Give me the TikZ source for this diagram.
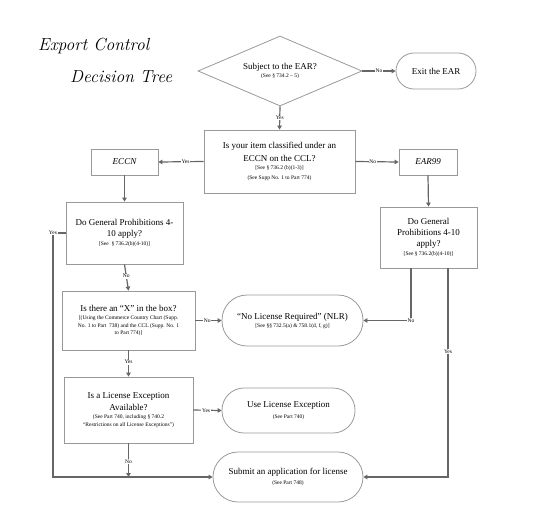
\documentclass[tikz,border=0pt]{standalone}
\usepackage{fontspec}
\setmainfont{Liberation Serif}
\newfontfamily\titlefont{Latin Modern Roman}
\usetikzlibrary{arrows.meta,shapes.geometric}
\newcommand{\mtx}{\fontsize{9}{11.5}\selectfont}
\newcommand{\stx}{\fontsize{5.5}{7.5}\selectfont}
\definecolor{lnc}{HTML}{666666}
\definecolor{bdc}{HTML}{999999}
\tikzset{
  box/.style={draw=bdc, line width=0.8pt, align=center, inner sep=1pt, text=black, font=\stx},
  stad/.style={box, rounded corners=#1},
  conn/.style={draw=lnc, line width=1.2pt, -{Triangle[length=4pt,width=4.5pt]}},
  lbl/.style={fill=white, inner sep=0.6pt, font=\stx, text=black},
}
\begin{document}
\begin{tikzpicture}[x=1pt,y=-1pt]
\useasboundingbox (0,0) rectangle (554,515);
% title
\node[anchor=base west, inner sep=0, font=\titlefont\itshape\fontsize{17.5}{20}\selectfont] (t1) at (38,50) {Export Control};
\node[anchor=base west, inner sep=0, font=\titlefont\itshape\fontsize{17.5}{20}\selectfont] (t2) at (70,82) {Decision Tree};
% nodes
\node[box, shape=diamond, minimum width=164pt, minimum height=70pt, inner sep=0pt] (dia) at (280,71) {};
\node[align=center, inner sep=0, font=\stx] (diat) at (280,71) {{\mtx Subject to the EAR?}\\[1pt](See § 734.2 – 5)};
\node[stad=18pt, minimum width=80pt, minimum height=36pt] (exit) at (436,71) {\mtx Exit the EAR};
\node[box, minimum width=151pt, minimum height=63pt] (ecb) at (279.5,161.5) {{\mtx Is your item classified under an}\\[3.5pt]{\mtx ECCN on the CCL?}\\[0.5pt][See § 736.2 (b)(1-3)]\\[2pt](See Supp No. 1 to Part 774)};
\node[box, minimum width=67pt, minimum height=26pt] (eccn) at (124.5,162) {\mtx\itshape ECCN};
\node[box, minimum width=58pt, minimum height=26pt] (ear) at (428,162) {\mtx\itshape EAR99};
\node[box, minimum width=117pt, minimum height=62pt] (gpl) at (124.5,233) {{\mtx Do General Prohibitions 4-}\\[3.5pt]{\mtx 10 apply?}\\[2pt][See \ § 736.2(b)(4-10)]};
\node[box, minimum width=97pt, minimum height=61pt] (gpr) at (428.5,237.5) {{\mtx Do General}\\[3.5pt]{\mtx Prohibitions 4-10}\\[3.5pt]{\mtx apply?}\\[1pt][See § 736.2(b)(4-10)]};
\node[box, minimum width=133pt, minimum height=59pt] (xb) at (128.5,320.5) {{\mtx Is there an “X” in the box?}\\[0.5pt][(Using the Commerce Country Chart (Supp.\\No. 1 to Part \ 738) and the CCL (Supp. No. 1\\to Part 774)]};
\node[stad=25pt, minimum width=141pt, minimum height=51pt] (nlr) at (292.5,320.5) {{\mtx “No License Required” (NLR)}\\[0.5pt][See §§ 732.5(a) \& 758.1(d, f, g)]};
\node[box, minimum width=129pt, minimum height=66pt] (le) at (128.5,410) {{\mtx Is a License Exception}\\[3.5pt]{\mtx Available?}\\[0.5pt](See Part 740, including § 740.2\\“Restrictions on all License Exceptions”)};
\node[stad=22pt, minimum width=133pt, minimum height=45pt] (use) at (288.5,410.5) {{\mtx Use License Exception}\\[3pt](See Part 740)};
\node[stad=25pt, minimum width=150pt, minimum height=50pt] (sub) at (288,477) {{\mtx Submit an application for license}\\[3pt](See Part 748)};
\coordinate (lc) at (53,233);
% connectors
\draw[conn] (dia.east) -- node[lbl]{No} (exit.west);
\draw[conn] (dia.south) -- node[lbl]{Yes} (ecb.north);
\draw[conn] (ecb.west) -- node[lbl, pos=0.4]{Yes} (eccn.east);
\draw[conn] (ecb.east) -- node[lbl, pos=0.4]{No} (ear.west);
\draw[conn] (eccn.south) -- (gpl.north);
\draw[conn] (ear.south) -- (gpr.north);
\draw[conn] (gpl.south) -- node[lbl, pos=0.45]{No} (xb.north);
\draw[conn] (xb.east) -- node[lbl, pos=0.45]{No} (nlr.west);
\draw[conn] ([xshift=-17.5pt]gpr.south) |- node[lbl]{No} (nlr.east);
\draw[conn] ([xshift=19.5pt]gpr.south) |- node[lbl, pos=0.2]{Yes} (sub.east);
\draw[conn] (xb.south) -- node[lbl, pos=0.45]{Yes} (le.north);
\draw[conn] (le.east) -- node[lbl, pos=0.45]{Yes} (use.west);
\draw[conn] (le.south) -- node[lbl, pos=0.55]{No} (le.south |- sub.west);
\draw[conn] (gpl.west) -- (lc) node[lbl]{Yes} |- (sub.west);
\end{tikzpicture}
\end{document}
